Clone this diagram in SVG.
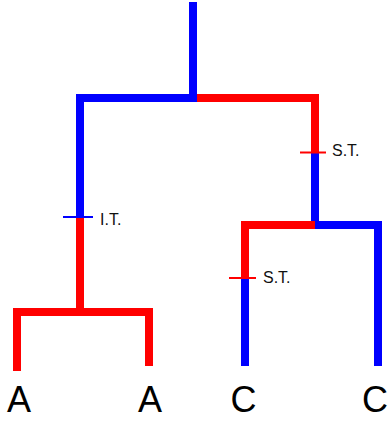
<svg xmlns="http://www.w3.org/2000/svg" width="390" height="424" viewBox="0 0 390 424">
<style>
.b{fill:none;stroke:#0000ff;stroke-width:8;stroke-linejoin:miter;stroke-linecap:butt}
.r{fill:none;stroke:#ff0000;stroke-width:8;stroke-linejoin:miter;stroke-linecap:butt}
.tb{stroke:#0000ff;stroke-width:2}
.tr{stroke:#ff0000;stroke-width:2}
.lab{font-family:"Liberation Sans",Arial,sans-serif;font-size:16px;fill:#111}
.leaf{font-family:"Liberation Sans",Arial,sans-serif;font-size:36px;fill:#000;text-anchor:middle}
</style>
<rect width="390" height="424" fill="#fff"/>
<g id="connectors">
<path class="b" d="M193,2 V98"/>
<path class="b" d="M80,217 V98 H197"/>
<path class="r" d="M197,98 H315 V153"/>
<path class="b" d="M315,153 V225"/>
<path class="r" d="M315,225 H245 V279"/>
<path class="b" d="M315,225 H378 V366"/>
<path class="b" d="M245,279 V366"/>
<path class="r" d="M80,217 V312"/>
<path class="r" d="M17,371 V312 H149 V366"/>
<line class="tr" x1="300" y1="152.5" x2="326" y2="152.5"/>
<line class="tb" x1="63" y1="217" x2="93" y2="217"/>
<line class="tr" x1="229" y1="278" x2="256" y2="278"/>
</g>
<g id="st1"><text class="lab" x="332" y="156">S.T.</text></g>
<g id="it"><text class="lab" x="100" y="225">I.T.</text></g>
<g id="st2"><text class="lab" x="263" y="283">S.T.</text></g>
<g id="leafA1"><text class="leaf" x="19" y="412">A</text></g>
<g id="leafA2"><text class="leaf" x="150" y="412">A</text></g>
<g id="leafC1"><text class="leaf" x="243.5" y="412">C</text></g>
<g id="leafC2"><text class="leaf" x="375" y="412">C</text></g>
</svg>
